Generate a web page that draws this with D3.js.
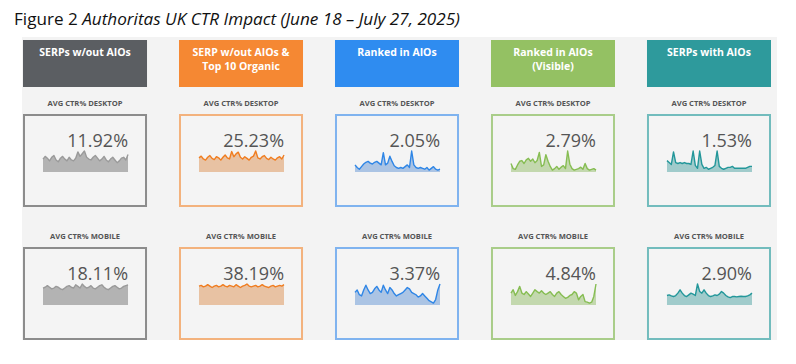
<!DOCTYPE html>
<html>
<head>
<meta charset="utf-8">
<script src="https://cdn.jsdelivr.net/npm/d3@7"></script>
<style>
  body { margin: 0; background: #fff; }
  svg { display: block; }
</style>
</head>
<body>
<script>
// Authoritas UK CTR impact - small multiple sparkline cards

var width = 796,
    height = 364;

var groups = ["SERPs w/out AIOs", "SERP w/out AIOs & Top 10 Organic", "Ranked in AIOs", "Ranked in AIOs (Visible)", "SERPs with AIOs"];
var headerLines = [["SERPs w/out AIOs"], ["SERP w/out AIOs &", "Top 10 Organic"], ["Ranked in AIOs"], ["Ranked in AIOs", "(Visible)"], ["SERPs with AIOs"]];
var devices = ["DESKTOP", "MOBILE"];

var avgDesktop = [11.92, 25.23, 2.05, 2.79, 1.53];
var avgMobile = [18.11, 38.19, 3.37, 4.84, 2.90];

// daily CTR, June 18 - July 27
var desktopSeries = [
  [11.7, 12.0, 11.8, 11.5, 11.9, 12.1, 11.6, 11.4, 11.8, 12.0, 11.7, 11.5, 11.9, 11.6, 11.5, 11.8, 12.5, 12.0, 12.3, 12.6, 11.9, 11.7, 11.6, 11.9, 12.1, 11.8, 11.5, 11.7, 12.0, 11.6, 11.4, 11.7, 11.9, 11.6, 11.3, 11.5, 11.8, 11.9, 11.6, 12.2],
  [25.2, 25.5, 25.0, 24.8, 25.3, 25.6, 25.1, 24.9, 25.4, 25.2, 24.8, 25.3, 25.7, 25.2, 25.0, 26.3, 25.4, 25.9, 26.2, 25.3, 25.0, 25.4, 25.1, 24.8, 25.3, 25.5, 26.4, 25.2, 25.0, 25.4, 25.6, 25.1, 24.9, 25.3, 25.0, 24.8, 25.2, 25.4, 25.0, 25.7],
  [2.0, 1.7, 1.5, 1.8, 2.1, 2.3, 2.4, 2.2, 2.1, 2.3, 2.4, 2.2, 2.0, 3.4, 2.0, 2.2, 3.0, 2.4, 1.9, 1.7, 1.6, 1.7, 1.6, 1.8, 2.0, 1.7, 3.6, 2.0, 1.7, 1.6, 1.7, 1.6, 1.5, 1.7, 1.4, 1.6, 1.8, 1.5, 1.4, 1.5],
  [2.9, 2.2, 2.1, 2.7, 3.2, 3.3, 2.9, 3.4, 3.6, 3.2, 3.5, 3.0, 3.3, 4.4, 2.5, 2.7, 4.1, 3.2, 2.5, 2.0, 2.2, 2.5, 2.1, 2.4, 2.6, 2.2, 4.6, 2.8, 2.2, 2.0, 2.1, 2.2, 2.4, 2.1, 2.9, 2.2, 2.0, 2.1, 2.2, 2.0],
  [2.1, 1.9, 1.7, 3.0, 1.9, 1.8, 1.9, 1.8, 1.9, 1.8, 1.8, 1.7, 3.1, 1.6, 1.3, 3.1, 1.7, 1.3, 1.4, 1.2, 1.3, 1.4, 1.6, 3.1, 1.5, 1.3, 1.2, 1.3, 1.4, 1.4, 1.5, 1.3, 1.3, 1.3, 1.3, 1.3, 1.3, 1.4, 1.5, 1.5]
];
var mobileSeries = [
  [18.0, 18.1, 18.3, 18.1, 17.9, 18.0, 18.2, 18.1, 17.9, 17.8, 18.0, 18.2, 18.3, 18.1, 18.0, 18.4, 18.2, 18.0, 18.5, 18.2, 18.0, 18.1, 18.3, 18.0, 17.9, 18.1, 18.3, 18.4, 18.1, 17.9, 17.8, 18.0, 18.2, 18.3, 18.1, 17.9, 18.0, 18.2, 18.3, 18.4],
  [38.2, 38.3, 38.1, 38.2, 38.4, 38.2, 38.0, 38.2, 38.3, 38.1, 38.2, 38.4, 38.2, 38.1, 38.3, 38.2, 38.1, 38.4, 38.2, 38.0, 38.2, 38.3, 38.5, 38.2, 38.1, 38.2, 38.3, 38.1, 38.2, 38.4, 38.2, 38.1, 38.0, 38.2, 38.3, 38.1, 38.2, 38.3, 38.2, 38.4],
  [3.4, 3.6, 3.2, 3.1, 3.6, 4.0, 3.6, 3.3, 3.4, 3.7, 3.9, 3.6, 3.4, 4.0, 3.6, 3.3, 3.8, 3.6, 3.3, 3.1, 3.2, 3.3, 3.4, 3.6, 3.8, 3.7, 3.4, 3.3, 3.2, 3.0, 3.1, 3.3, 3.1, 2.9, 2.7, 2.6, 2.5, 2.8, 3.6, 4.1],
  [4.85, 5.2, 4.6, 5.0, 5.55, 4.85, 4.7, 5.0, 4.75, 4.5, 4.85, 5.2, 5.0, 4.85, 5.1, 4.85, 4.7, 4.85, 5.0, 4.7, 4.5, 4.85, 5.0, 4.7, 4.5, 4.3, 4.4, 4.6, 4.7, 5.0, 4.85, 4.15, 4.5, 4.7, 3.95, 3.9, 3.8, 3.9, 4.5, 5.8],
  [2.68, 2.74, 2.65, 2.59, 2.68, 2.89, 3.19, 2.89, 2.68, 2.59, 2.74, 2.89, 2.8, 2.68, 3.7, 3.04, 2.89, 3.19, 2.89, 2.68, 2.59, 2.65, 2.74, 2.68, 2.8, 3.04, 2.89, 2.68, 2.56, 2.5, 2.59, 2.59, 2.56, 2.59, 2.62, 2.59, 2.59, 2.65, 2.74, 2.89]
];

// how far below the lowest point each sparkline's auto-scaled axis starts (share of range)
var floorPad = [[0.8, 1.3, 0.1, 0.1, 0.15], [2.7, 5, 0.1, 0.1, 0.55]];

var headerColor = ["#5b5e62", "#f58833", "#2f8cf0", "#94c163", "#2e9a9c"];
var borderColor = ["#8c8c8c", "#f3b27d", "#7fb3ef", "#a9cd89", "#72bcbd"];
var lineColor   = ["#9a9a9a", "#f07d20", "#2f86e6", "#86bd52", "#23979a"];
var fillColor   = ["#b3b3b3", "#e8c2a3", "#abc4e4", "#c3d8ae", "#a0cbcb"];

var svg = d3.select("body").append("svg")
    .attr("width", width)
    .attr("height", height);

// title
var title = svg.append("text")
    .attr("x", 14)
    .attr("y", 25)
    .attr("font-family", "'Open Sans', sans-serif")
    .attr("font-size", 15.5)
    .attr("textLength", 446)
    .attr("lengthAdjust", "spacingAndGlyphs")
    .attr("fill", "#111");
title.append("tspan").text("Figure 2 ");
title.append("tspan").attr("font-style", "italic").text("Authoritas UK CTR Impact (June 18 \u2013 July 27, 2025)");

// light panel behind the cards
svg.append("rect")
    .attr("x", 22).attr("y", 37)
    .attr("width", 755).attr("height", 303)
    .attr("fill", "#f3f3f3");

var x = d3.scaleBand()
    .domain(groups)
    .range([23, 771])
    .paddingInner(0.205)
    .paddingOuter(0);

var bw = x.bandwidth();

var col = svg.selectAll("g.col")
  .data(groups)
  .enter().append("g")
    .attr("class", "col")
    .attr("transform", function(d) { return "translate(" + x(d) + ",0)"; });

// headers
col.append("rect")
    .attr("y", 40)
    .attr("width", bw)
    .attr("height", 47)
    .attr("fill", function(d, i) { return headerColor[i]; });

col.each(function(d, i) {
  var lines = headerLines[i];
  d3.select(this).selectAll("text.head")
    .data(lines)
    .enter().append("text")
      .attr("class", "head")
      .attr("x", bw / 2)
      .attr("y", function(t, j) { return 56 + j * 14; })
      .attr("text-anchor", "middle")
      .attr("font-family", "'Open Sans', sans-serif")
      .attr("font-weight", 700)
      .attr("font-size", 10.5)
      .attr("fill", "#fff")
      .text(function(t) { return t; });
});

var rowTop = [114, 247],
    boxH = [91, 91];

devices.forEach(function(dev, r) {
  var top = rowTop[r];
  var avgs = r === 0 ? avgDesktop : avgMobile;
  var series = r === 0 ? desktopSeries : mobileSeries;

  col.append("text")
      .attr("x", bw / 2)
      .attr("y", top - 8)
      .attr("text-anchor", "middle")
      .attr("font-family", "'Open Sans', sans-serif")
      .attr("font-weight", 700)
      .attr("font-size", 7.6)
      .attr("fill", "#555")
      .text("AVG CTR% " + dev);

  col.append("rect")
      .attr("x", 1)
      .attr("y", top + 1)
      .attr("width", bw - 2)
      .attr("height", boxH[r])
      .attr("fill", "#f4f4f4")
      .attr("stroke", function(d, i) { return borderColor[i]; })
      .attr("stroke-width", 2);

  col.append("text")
      .attr("x", bw - 19)
      .attr("y", top + 33)
      .attr("text-anchor", "end")
      .attr("font-family", "'Open Sans', sans-serif")
      .attr("font-size", 18)
      .attr("fill", "#555")
      .text(function(d, i) { return avgs[i].toFixed(2) + "%"; });

  col.each(function(d, i) {
    var vals = series[i];
    var sx = d3.scaleLinear().domain([0, vals.length - 1]).range([20, bw - 19]);
    var ext = d3.extent(vals);
    var lo = ext[0] - (ext[1] - ext[0]) * floorPad[r][i];
    var sy = d3.scaleLinear().domain([lo, ext[1]]).range([top + 58, top + 37]);

    var area = d3.area()
        .x(function(v, k) { return sx(k); })
        .y0(sy(lo))
        .y1(function(v) { return sy(v); });
    var line = d3.line()
        .x(function(v, k) { return sx(k); })
        .y(function(v) { return sy(v); });

    var g = d3.select(this);
    g.append("path")
        .datum(vals)
        .attr("d", area)
        .attr("fill", fillColor[i]);
    g.append("path")
        .datum(vals)
        .attr("d", line)
        .attr("fill", "none")
        .attr("stroke", lineColor[i])
        .attr("stroke-width", 1.4)
        .attr("stroke-linejoin", "round");
  });
});
</script>
</body>
</html>
